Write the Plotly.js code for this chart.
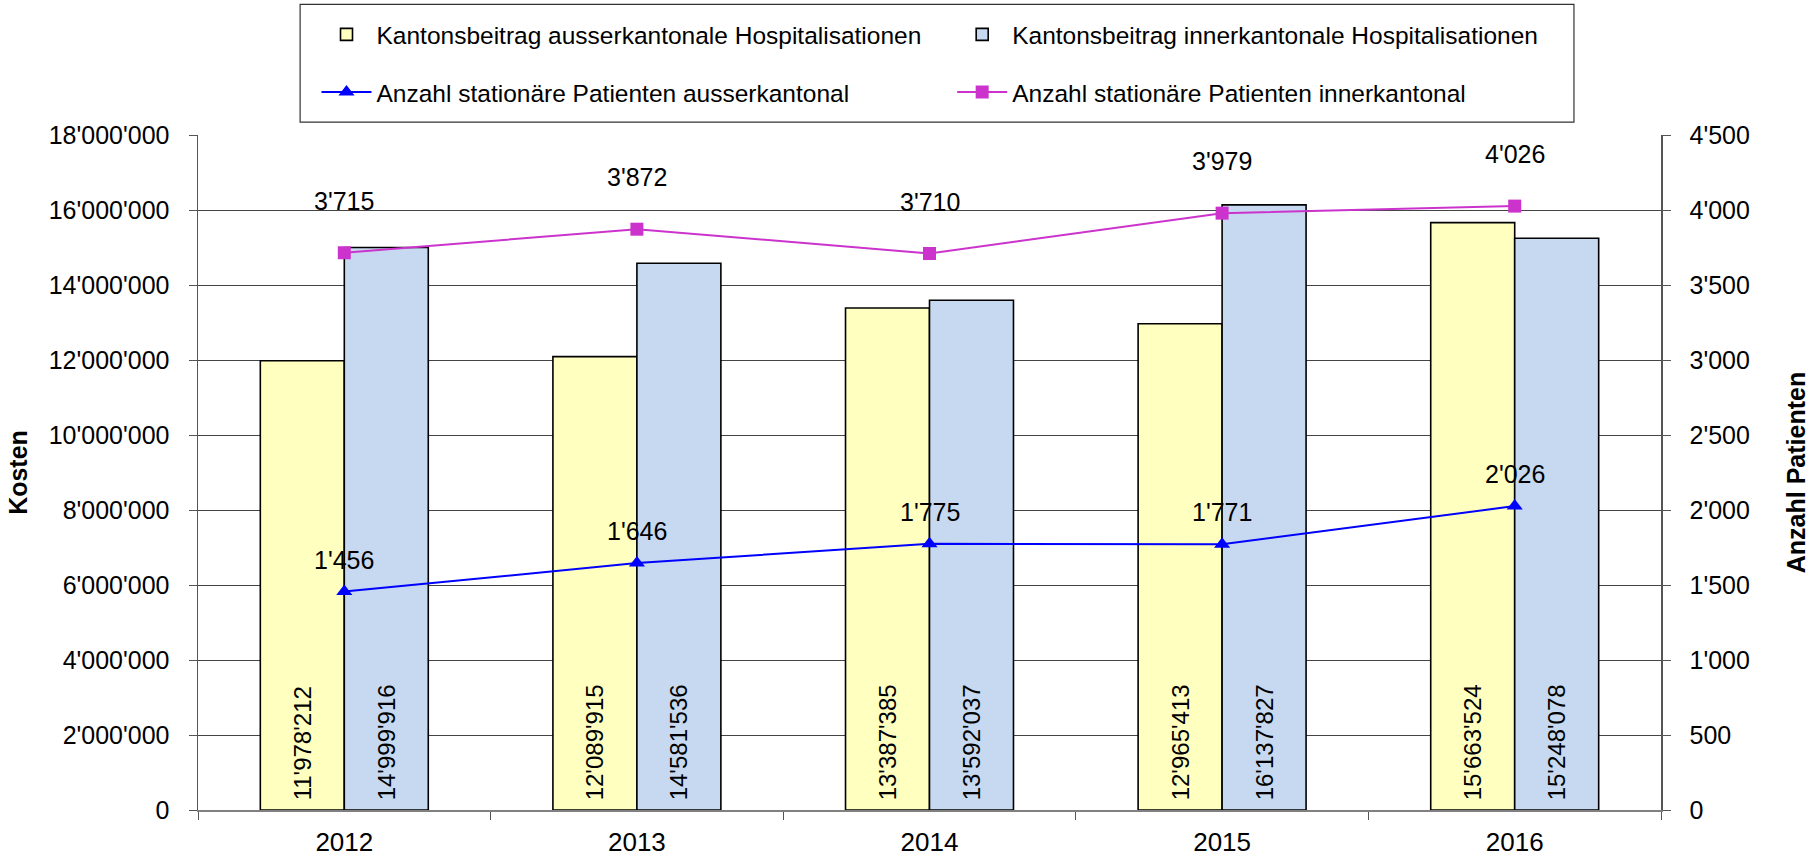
<!DOCTYPE html>
<html><head><meta charset="utf-8">
<script src="https://cdn.plot.ly/plotly-3.0.1.min.js"></script>
<style>html,body{margin:0;padding:0;background:#fff}#chart{width:1819px;height:857px}</style>
</head><body><div id="chart"></div>
<script>
const years = ['2012', '2013', '2014', '2015', '2016'];
const costOut = [11978212, 12089915, 13387385, 12965413, 15663524];
const costIn = [14999916, 14581536, 13592037, 16137827, 15248078];
const patientsOut = [1456, 1646, 1775, 1771, 2026];
const patientsIn = [3715, 3872, 3710, 3979, 4026];
const seriesNames = [
  'Kantonsbeitrag ausserkantonale Hospitalisationen',
  'Kantonsbeitrag innerkantonale Hospitalisationen',
  'Anzahl stationäre Patienten ausserkantonal',
  'Anzahl stationäre Patienten innerkantonal'
];
const leftTitle = 'Kosten';
const rightTitle = 'Anzahl Patienten';

const FONT = 'Liberation Sans, Arial, sans-serif';
function fmt(n) { return String(n).replace(/\B(?=(\d{3})+(?!\d))/g, "'"); }

const barText = {
  texttemplate: '\u00a0%{y:,d}', textposition: 'inside', insidetextanchor: 'start',
  textangle: -90, constraintext: 'none',
  textfont: {family: FONT, size: 24, color: '#000'}
};

const traces = [
  Object.assign({
    type: 'bar', name: seriesNames[0], x: years, y: costOut, legend: 'legend',
    marker: {color: '#FFFFC0', line: {color: '#000', width: 1.6}}
  }, barText),
  Object.assign({
    type: 'bar', name: seriesNames[1], x: years, y: costIn, legend: 'legend2',
    marker: {color: '#C6D9F0', line: {color: '#000', width: 1.6}}
  }, barText),
  {
    type: 'scatter', mode: 'lines+markers', name: seriesNames[2], x: years, y: patientsOut,
    yaxis: 'y2', legend: 'legend3',
    line: {color: '#0000FF', width: 2}, marker: {symbol: 'triangle-up', size: 14, color: '#0000FF'}
  },
  {
    type: 'scatter', mode: 'lines+markers', name: seriesNames[3], x: years, y: patientsIn,
    yaxis: 'y2', legend: 'legend4',
    line: {color: '#CC33CC', width: 2}, marker: {symbol: 'square', size: 13, color: '#CC33CC'}
  }
];

const annotations = [];
years.forEach((yr, i) => {
  annotations.push({x: i, y: patientsIn[i], xref: 'x', yref: 'y2', text: fmt(patientsIn[i]),
    showarrow: false, yshift: 52, font: {family: FONT, size: 25, color: '#000'}});
  annotations.push({x: i, y: patientsOut[i], xref: 'x', yref: 'y2', text: fmt(patientsOut[i]),
    showarrow: false, yshift: 32, font: {family: FONT, size: 25, color: '#000'}});
});

const legendBase = {
  bgcolor: 'rgba(0,0,0,0)', borderwidth: 0, xanchor: 'left', yanchor: 'middle',
  font: {family: FONT, size: 24.5, color: '#000'}, itemwidth: 50, orientation: 'v'
};

const layout = {
  width: 1819, height: 857,
  margin: {l: 198, r: 158, t: 133, b: 47, pad: 0},
  paper_bgcolor: '#fff', plot_bgcolor: '#fff',
  font: {family: FONT, color: '#000', size: 25},
  separators: ".'",
  barmode: 'group', bargap: 0.426, bargroupgap: 0,
  hovermode: false,
  showlegend: true,
  legend: Object.assign({x: 0.081, y: 1.149}, legendBase),
  legend2: Object.assign({x: 0.5155, y: 1.149}, legendBase),
  legend3: Object.assign({x: 0.081, y: 1.0635}, legendBase),
  legend4: Object.assign({x: 0.5155, y: 1.0635}, legendBase),
  xaxis: {
    type: 'category', range: [-0.5, years.length - 0.5], autorange: false,
    tickson: 'boundaries', ticks: 'outside', ticklen: 8, tickcolor: '#555',
    showline: true, linecolor: '#808080', linewidth: 1.5, showgrid: false, zeroline: false,
    tickfont: {family: FONT, size: 26}, ticklabelstandoff: 8, tickangle: 0
  },
  yaxis: {
    range: [0, 18000000], dtick: 2000000, tickformat: ',d',
    showgrid: true, gridcolor: '#444', gridwidth: 1, zeroline: false,
    showline: true, linecolor: '#555', linewidth: 1.5, ticks: 'outside', ticklen: 8, tickcolor: '#555',
    tickfont: {family: FONT, size: 25}, ticklabelstandoff: 14,
    title: {text: leftTitle, font: {family: FONT, size: 25, weight: 'bold'}, standoff: 14}
  },
  yaxis2: {
    overlaying: 'y', side: 'right', range: [0, 4500], dtick: 500, tickformat: ',d',
    showgrid: false, zeroline: false,
    showline: true, linecolor: '#555', linewidth: 1.5, ticks: 'outside', ticklen: 8, tickcolor: '#555',
    tickfont: {family: FONT, size: 25}, ticklabelstandoff: 14,
    title: {text: rightTitle, font: {family: FONT, size: 25, weight: 'bold'}, standoff: 38}
  },
  annotations: annotations,
  shapes: [{
    type: 'rect', xref: 'paper', yref: 'paper', x0: 0.0698, x1: 0.9405, y0: 1.0192, y1: 1.1935,
    line: {color: '#333', width: 1.2}, fillcolor: 'rgba(0,0,0,0)', layer: 'below'
  }]
};

Plotly.newPlot('chart', traces, layout, {displayModeBar: false, staticPlot: true});
</script>
</body></html>
